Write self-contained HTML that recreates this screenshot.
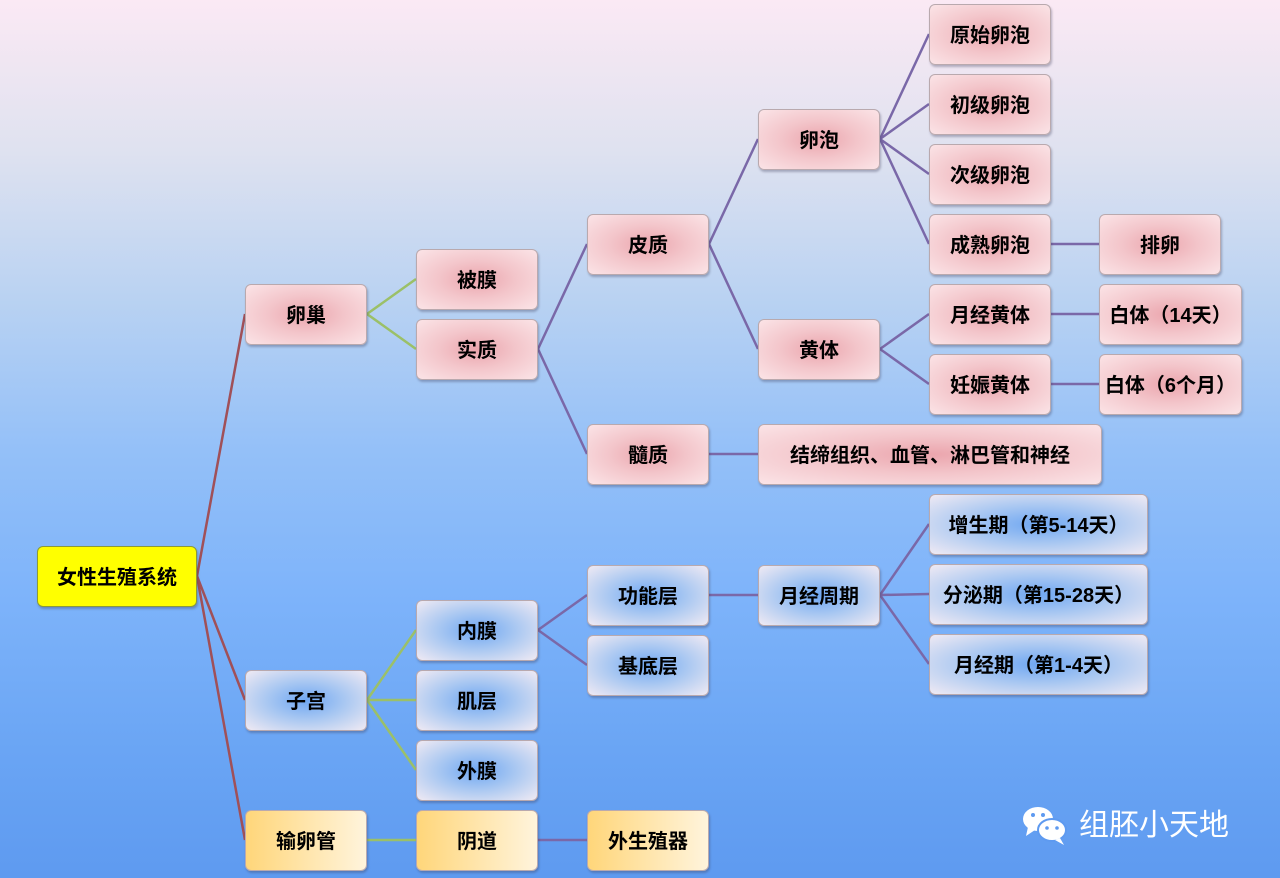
<!DOCTYPE html>
<html><head><meta charset="utf-8">
<style>
html,body{margin:0;padding:0;}
body{width:1280px;height:878px;position:relative;overflow:hidden;
background:linear-gradient(to bottom,#fbe9f4 0px,#dfe2f0 150px,#b9d2f2 300px,#94c0f8 450px,#7db3fa 600px,#6aa5f4 750px,#5e9af0 878px);
font-family:"Liberation Sans","Noto Sans CJK SC",sans-serif;}
svg{position:absolute;left:0;top:0;}
.n{position:absolute;height:61px;width:122px;box-sizing:border-box;border-radius:6px;
display:flex;align-items:center;justify-content:center;font-size:20px;color:#000;font-weight:bold;
border:1px solid #b9a9ae;box-shadow:1px 2px 2px rgba(60,60,90,.35);white-space:nowrap;padding-bottom:2px;}
.p{background:radial-gradient(ellipse at center,#eba5ad 0%,#f3c5ca 45%,#fbe4e7 100%);}
.b{background:radial-gradient(ellipse at center,#6fa7f2 0%,#a8c7f2 45%,#f0eaf3 100%);}
.y{background:linear-gradient(to right,#ffd67a,#fff4dc);}
.root{background:#ffff00;border:1px solid #8a9a3a;width:160px;}
.wm{position:absolute;left:1079px;top:800px;color:#fff;font-size:30px;font-family:"Noto Sans CJK SC",sans-serif;}
</style></head><body>
<svg width="1280" height="878">
<g stroke="#a05058" stroke-width="2.5" fill="none">
<path d="M197 576L245 314M197 576L245 700M197 576L245 840"/>
</g>
<g stroke="#9bc068" stroke-width="2.5" fill="none">
<path d="M367 314L416 279M367 314L416 349M367 700L416 630M367 700L416 700M367 700L416 770M367 840L416 840"/>
</g>
<g stroke="#7a68a8" stroke-width="2.5" fill="none">
<path d="M538 349L587 244M538 349L587 454M538 630L587 595M538 630L587 665M538 840L587 840
M709 244L758 139M709 244L758 349M709 454L758 454M709 595L758 595
M880 139L929 34M880 139L929 104M880 139L929 174M880 139L929 244
M880 349L929 314M880 349L929 384
M880 595L929 524M880 595L929 594M880 595L929 664
M1050 244L1099 244M1050 314L1099 314M1050 384L1099 384"/>
</g>
<g transform="translate(1022,805)">
<ellipse cx="16" cy="14" rx="15" ry="12" fill="#fff"/>
<path d="M6 22 L4 31 L13 25Z" fill="#fff"/>
<ellipse cx="30" cy="25" rx="14" ry="11" fill="#fff" stroke="#5e9af0" stroke-width="2"/>
<path d="M38 33 L42 40 L33 35Z" fill="#fff"/>
<circle cx="11" cy="10" r="2" fill="#5e9af0"/><circle cx="21" cy="10" r="2" fill="#5e9af0"/>
<circle cx="25" cy="23" r="1.8" fill="#5e9af0"/><circle cx="35" cy="23" r="1.8" fill="#5e9af0"/>
</g>
</svg>
<div class="n root" style="left:37px;top:546px">女性生殖系统</div>
<div class="n p" style="left:245px;top:284px">卵巢</div>
<div class="n b" style="left:245px;top:670px">子宫</div>
<div class="n y" style="left:245px;top:810px">输卵管</div>
<div class="n p" style="left:416px;top:249px">被膜</div>
<div class="n p" style="left:416px;top:319px">实质</div>
<div class="n b" style="left:416px;top:600px">内膜</div>
<div class="n b" style="left:416px;top:670px">肌层</div>
<div class="n b" style="left:416px;top:740px">外膜</div>
<div class="n y" style="left:416px;top:810px">阴道</div>
<div class="n p" style="left:587px;top:214px">皮质</div>
<div class="n p" style="left:587px;top:424px">髓质</div>
<div class="n b" style="left:587px;top:565px">功能层</div>
<div class="n b" style="left:587px;top:635px">基底层</div>
<div class="n y" style="left:587px;top:810px">外生殖器</div>
<div class="n p" style="left:758px;top:109px">卵泡</div>
<div class="n p" style="left:758px;top:319px">黄体</div>
<div class="n p" style="left:758px;top:424px;width:344px">结缔组织、血管、淋巴管和神经</div>
<div class="n b" style="left:758px;top:565px">月经周期</div>
<div class="n p" style="left:929px;top:4px">原始卵泡</div>
<div class="n p" style="left:929px;top:74px">初级卵泡</div>
<div class="n p" style="left:929px;top:144px">次级卵泡</div>
<div class="n p" style="left:929px;top:214px">成熟卵泡</div>
<div class="n p" style="left:929px;top:284px">月经黄体</div>
<div class="n p" style="left:929px;top:354px">妊娠黄体</div>
<div class="n b" style="left:929px;top:494px;width:219px">增生期（第5-14天）</div>
<div class="n b" style="left:929px;top:564px;width:219px">分泌期（第15-28天）</div>
<div class="n b" style="left:929px;top:634px;width:219px">月经期（第1-4天）</div>
<div class="n p" style="left:1099px;top:214px">排卵</div>
<div class="n p" style="left:1099px;top:284px;width:143px">白体（14天）</div>
<div class="n p" style="left:1099px;top:354px;width:143px">白体（6个月）</div>
<div class="wm">组胚小天地</div>
</body></html>
